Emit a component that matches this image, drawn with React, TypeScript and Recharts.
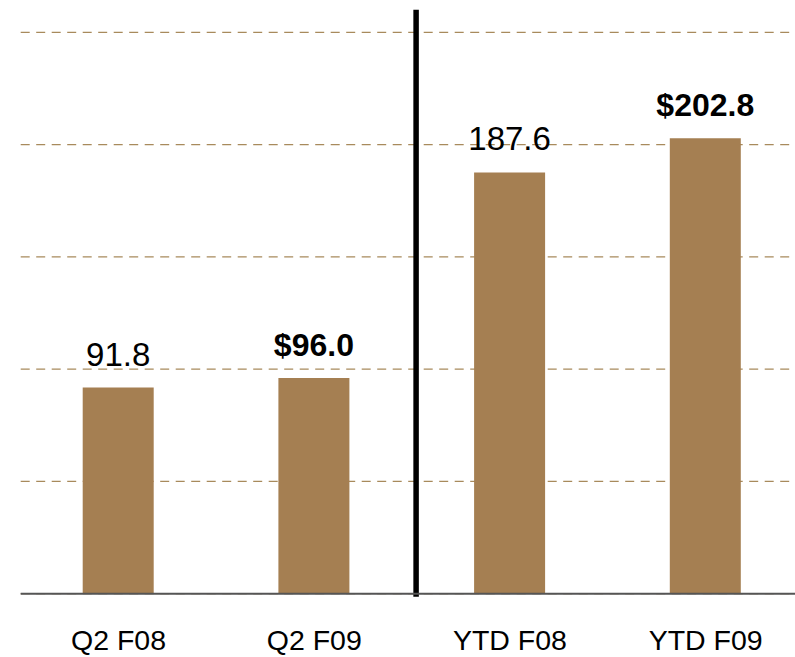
import React from 'react';
import {
  BarChart,
  Bar,
  XAxis,
  YAxis,
  CartesianGrid,
  LabelList,
  ReferenceLine,
} from 'recharts';

const periods = ['Q2 F08', 'Q2 F09', 'YTD F08', 'YTD F09'];
const revenue = [91.8, 96.0, 187.6, 202.8];
const valueLabels = ['91.8', '$96.0', '187.6', '$202.8'];
const highlighted = [false, true, false, true];
const yTicks = [0, 50, 100, 150, 200, 250];

const data = periods.map((period, i) => ({
  period,
  revenue: revenue[i],
  label: valueLabels[i],
  bold: highlighted[i],
}));

const FONT = '"Liberation Sans", Arial, sans-serif';
const BAR_COLOR = '#A57F52';

const ValueLabel = (props: any) => {
  const { x, y, width, index } = props;
  const d = data[index];
  return (
    <text
      x={x + width / 2}
      y={y - 22}
      textAnchor="middle"
      fontFamily={FONT}
      fontSize={d.bold ? 32 : 33}
      fontWeight={d.bold ? 'bold' : 'normal'}
      fill="#000"
    >
      {d.label}
    </text>
  );
};

const PeriodTick = (props: any) => {
  const { x, y, payload } = props;
  return (
    <text
      x={x}
      y={y}
      dy={56}
      textAnchor="middle"
      fontFamily={FONT}
      fontSize={28.5}
      fill="#000"
    >
      {payload.value}
    </text>
  );
};

// divider between quarter and year-to-date groups, nudged a little right of the band edge
const Divider = (props: any) => {
  const { x1, y1, x2, y2 } = props;
  return <line x1={x1 + 4} y1={y1} x2={x2 + 4} y2={y2} stroke="#000" strokeWidth={5.5} />;
};

const App: React.FC = () => {
  return (
    <div style={{ position: 'absolute', left: 0, top: 0, width: 795, height: 657, overflow: 'hidden', background: '#fff' }}>
      <BarChart
        width={810}
        height={657}
        data={data}
        margin={{ top: 32.3, right: 6.5, bottom: 0, left: 20.7 }}
        barSize={71}
      >
        <CartesianGrid
          horizontal
          vertical={false}
          stroke="#A88A5C"
          strokeDasharray="9 6.5"
          strokeWidth={1.2}
        />
        <YAxis hide domain={[0, 250]} ticks={yTicks} type="number" />
        <XAxis
          dataKey="period"
          height={63.3}
          axisLine={{ stroke: '#555555', strokeWidth: 2 }}
          tickLine={false}
          tickSize={0}
          tickMargin={0}
          tick={<PeriodTick />}
          interval={0}
        />
        <Bar dataKey="revenue" fill={BAR_COLOR} isAnimationActive={false}>
          <LabelList dataKey="label" content={<ValueLabel />} />
        </Bar>
        <ReferenceLine
          segment={[
            { x: 'Q2 F09', y: -1.4 },
            { x: 'Q2 F09', y: 260 },
          ]}
          position="end"
          ifOverflow="visible"
          shape={<Divider />}
        />
      </BarChart>
    </div>
  );
};

export default App;
